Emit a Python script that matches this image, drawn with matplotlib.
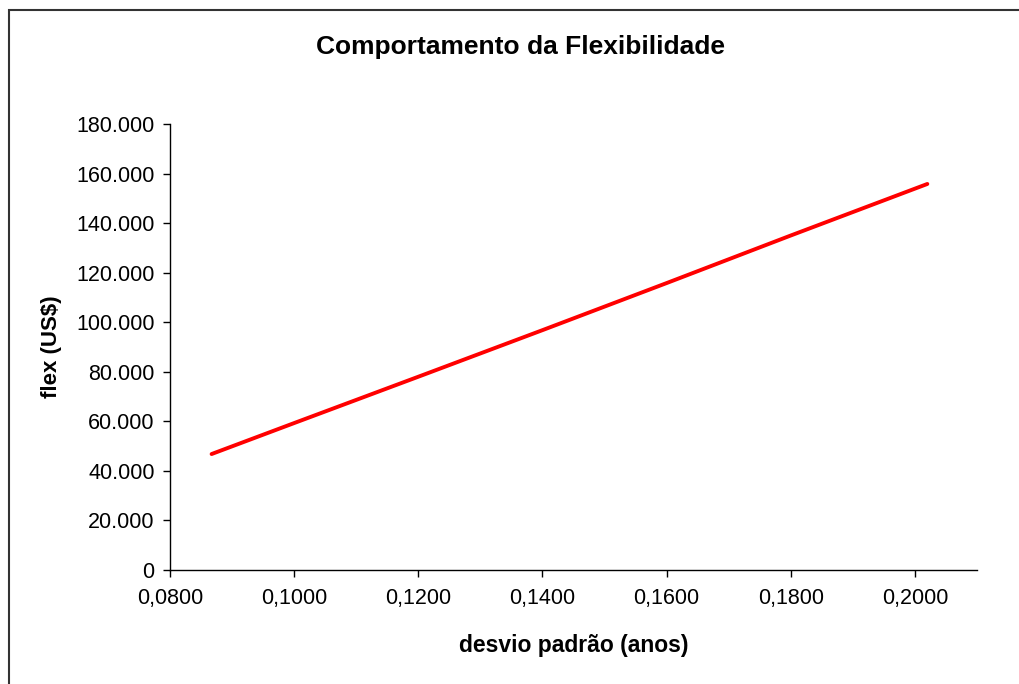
import matplotlib
matplotlib.use("Agg")
import matplotlib.pyplot as plt
from matplotlib.patches import Rectangle
from matplotlib.ticker import FuncFormatter

# data
desvio = [0.0867, 0.1000, 0.1200, 0.1400, 0.1600, 0.1800, 0.2020]
flex = [46800, 59300, 78000, 96800, 115800, 135000, 155800]

x_ticks = [0.08, 0.10, 0.12, 0.14, 0.16, 0.18, 0.20]
y_ticks = [0, 20000, 40000, 60000, 80000, 100000, 120000, 140000, 160000, 180000]

plt.rcParams['font.family'] = ['Liberation Sans', 'DejaVu Sans']

W, H = 1019, 684
fig = plt.figure(figsize=(W / 100, H / 100), dpi=100)
ax = fig.add_axes([170 / W, 1 - 570 / H, (977 - 170) / W, (570 - 124) / H])

ax.plot(desvio, flex, color='#ff0000', lw=2.8, solid_capstyle='round')

ax.set_xlim(0.08, 0.21)
ax.set_ylim(0, 180000)
ax.set_xticks(x_ticks)
ax.set_yticks(y_ticks)


def fmt_y(v, pos):
    if v == 0:
        return '0'
    return '{:,.0f}'.format(v).replace(',', '.')


def fmt_x(v, pos):
    return '{:.4f}'.format(v).replace('.', ',')


ax.yaxis.set_major_formatter(FuncFormatter(fmt_y))
ax.xaxis.set_major_formatter(FuncFormatter(fmt_x))

for s in ['top', 'right']:
    ax.spines[s].set_visible(False)
for s in ['left', 'bottom']:
    ax.spines[s].set_linewidth(1.0)
    ax.spines[s].set_color('black')

ax.tick_params(axis='both', direction='out', length=5, width=1, labelsize=15.5, colors='black')
ax.tick_params(axis='x', pad=8)
ax.tick_params(axis='y', pad=6)

ax.set_xlabel('desvio padrão (anos)', fontsize=16.5, fontweight='bold', labelpad=18)
ax.set_ylabel('flex (US$)', fontsize=16, fontweight='bold', labelpad=10)

fig.text(520 / W, 1 - 47 / H, 'Comportamento da Flexibilidade', fontsize=19,
         fontweight='bold', ha='center', va='center')

# outer chart border (cut off on the right and bottom)
fig.patches.append(Rectangle((9 / W, -0.1), 1.2, 1 - 10 / H + 0.1, transform=fig.transFigure,
                             fill=False, edgecolor='#333333', lw=1.5))

fig.savefig('out.png', dpi=100)
